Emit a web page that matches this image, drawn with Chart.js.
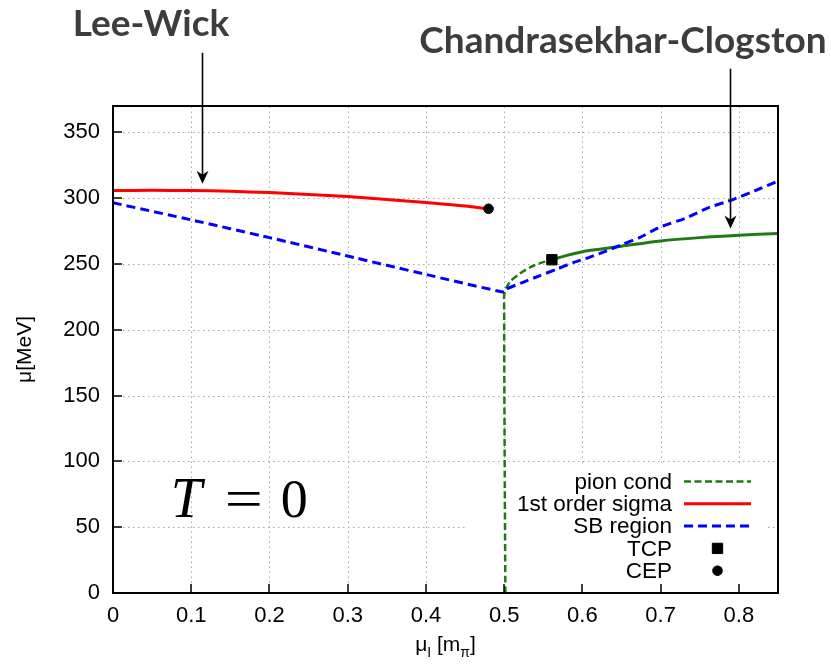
<!DOCTYPE html>
<html>
<head>
<meta charset="utf-8">
<script src="https://cdn.jsdelivr.net/npm/chart.js@4/dist/chart.umd.min.js"></script>
<style>
  html, body { margin: 0; padding: 0; background: #fff; }
  #wrap { width: 831px; height: 664px; }
</style>
</head>
<body>
<div id="wrap"><canvas id="c" width="831" height="664"></canvas></div>
<script>
// Axis ticks
const xTicks = [0, 0.1, 0.2, 0.3, 0.4, 0.5, 0.6, 0.7, 0.8];
const yTicks = [0, 50, 100, 150, 200, 250, 300, 350];

// Pion condensation boundary (second-order, dashed part)
const pionCondX = [0.5015, 0.5008, 0.5002, 0.5, 0.5, 0.503, 0.509, 0.52, 0.533, 0.545, 0.561];
const pionCondY = [0, 80, 160, 215, 226, 232, 237.5, 242.6, 247.4, 250.4, 253.2];

// Pion condensation boundary beyond the TCP (first-order, solid part)
const pionFirstX = [0.561, 0.58, 0.6, 0.622, 0.65, 0.7, 0.75, 0.8, 0.85];
const pionFirstY = [253.2, 256.5, 259.3, 261.2, 263.5, 267.5, 270, 271.8, 273.2];

// First-order chiral (sigma) transition line, ending at the CEP
const sigmaX = [0, 0.05, 0.1, 0.15, 0.2, 0.25, 0.3, 0.35, 0.4, 0.45, 0.48];
const sigmaY = [305.8, 305.9, 305.8, 305.2, 304.2, 302.8, 301.2, 299.0, 296.6, 294.0, 291.9];

// Boundary of the symmetry-broken region
const sbX = [0, 0.1, 0.2, 0.3, 0.4, 0.5, 0.503, 0.524, 0.545, 0.567, 0.588, 0.609, 0.631, 0.652, 0.673, 0.699, 0.733, 0.762, 0.788, 0.822, 0.85];
const sbY = [296.5, 283.5, 270, 256, 242, 228.5, 231, 236, 241, 246, 251, 255, 260, 265, 270, 278, 285, 293, 298, 306, 313];

// Special points
const tcpPoint = [0.561, 253.2];
const cepPoint = [0.48, 291.9];

// Annotation arrows: [x, top of shaft (μ), tip (μ)]
const leeWickArrow = [0.1134, 410.4, 311];
const clogstonArrow = [0.7885, 398.3, 277];

const GREEN = '#1f7a12';
const RED = '#ff0000';
const BLUE = '#0000ff';

const zip = (xs, ys) => xs.map((x, i) => ({ x, y: ys[i] }));

Chart.defaults.font.family = "'Liberation Sans', Arial, sans-serif";
Chart.defaults.color = '#000';

const datasets = [
  { label: 'TCP', data: [{ x: tcpPoint[0], y: tcpPoint[1] }], showLine: false,
    pointStyle: 'rect', pointRadius: 7.3, backgroundColor: '#000', borderColor: '#000', borderWidth: 1, order: 0 },
  { label: 'CEP', data: [{ x: cepPoint[0], y: cepPoint[1] }], showLine: false,
    pointStyle: 'circle', pointRadius: 4.8, backgroundColor: '#000', borderColor: '#000', borderWidth: 1, order: 0 },
  { label: 'pion cond', data: zip(pionCondX, pionCondY), showLine: true, pointRadius: 0,
    borderColor: GREEN, borderWidth: 2.5, borderDash: [7, 3.5], tension: 0.25, order: 2 },
  { label: '', data: zip(pionFirstX, pionFirstY), showLine: true, pointRadius: 0,
    borderColor: GREEN, borderWidth: 3, tension: 0.3, order: 2 },
  { label: '1st order sigma', data: zip(sigmaX, sigmaY), showLine: true, pointRadius: 0,
    borderColor: RED, borderWidth: 3, tension: 0.3, order: 1 },
  { label: 'SB region', data: zip(sbX, sbY), showLine: true, pointRadius: 0,
    borderColor: BLUE, borderWidth: 3, borderDash: [9, 5], tension: 0.15, order: 1 }
];

// Key entries in display order
const keyOrder = ['pion cond', '1st order sigma', 'SB region', 'TCP', 'CEP'];

function drawArrow(ctx, x, yTop, yTip) {
  ctx.save();
  ctx.strokeStyle = '#000';
  ctx.fillStyle = '#000';
  ctx.lineWidth = 1.6;
  ctx.beginPath();
  ctx.moveTo(x, yTop);
  ctx.lineTo(x, yTip - 8);
  ctx.stroke();
  ctx.beginPath();
  ctx.moveTo(x, yTip);
  ctx.lineTo(x - 6, yTip - 13);
  ctx.lineTo(x, yTip - 9);
  ctx.lineTo(x + 6, yTip - 13);
  ctx.closePath();
  ctx.fill();
  ctx.restore();
}

const framePlugin = {
  id: 'gnuFrame',
  beforeDatasetsDraw(chart) {
    const { ctx, chartArea: ca, scales: { x: xs, y: ys } } = chart;
    ctx.save();
    // dotted grid
    ctx.strokeStyle = '#a6a6a6';
    ctx.lineWidth = 1;
    ctx.setLineDash([1.5, 3.5]);
    xTicks.forEach(v => {
      if (v === 0) return;
      const px = Math.round(xs.getPixelForValue(v)) + 0.5;
      ctx.beginPath(); ctx.moveTo(px, ca.bottom); ctx.lineTo(px, ca.top); ctx.stroke();
    });
    yTicks.forEach(v => {
      if (v === 0) return;
      const py = Math.round(ys.getPixelForValue(v)) + 0.5;
      ctx.beginPath(); ctx.moveTo(ca.left, py); ctx.lineTo(ca.right, py); ctx.stroke();
    });
    ctx.setLineDash([]);
    // opaque key box
    ctx.fillStyle = '#fff';
    const kl = ca.right - 312, kr = ca.right - 12, kt = ca.bottom - 129;
    ctx.fillRect(kl, kt, kr - kl, ca.bottom - kt);
    ctx.restore();
  },
  afterDatasetsDraw(chart) {
    const { ctx, chartArea: ca, scales: { x: xs, y: ys } } = chart;
    ctx.save();
    // border
    ctx.strokeStyle = '#000';
    ctx.lineWidth = 2;
    ctx.strokeRect(ca.left, ca.top, ca.right - ca.left, ca.bottom - ca.top);
    // inward tick marks on the left and bottom axes
    ctx.lineWidth = 1.5;
    yTicks.forEach(v => {
      const py = Math.round(ys.getPixelForValue(v));
      ctx.beginPath(); ctx.moveTo(ca.left, py); ctx.lineTo(ca.left + 9, py); ctx.stroke();
    });
    xTicks.forEach(v => {
      const px = Math.round(xs.getPixelForValue(v));
      ctx.beginPath(); ctx.moveTo(px, ca.bottom); ctx.lineTo(px, ca.bottom - 9); ctx.stroke();
    });

    // key
    const textRight = ca.right - 106;
    const sampleL = ca.right - 94, sampleR = ca.right - 27, sampleC = (sampleL + sampleR) / 2;
    const rowTop = ca.bottom - 111.5, rowStep = 22.3;
    ctx.font = "22.5px 'Liberation Sans', Arial, sans-serif";
    ctx.textAlign = 'right';
    ctx.textBaseline = 'middle';
    keyOrder.forEach((name, i) => {
      const ds = chart.data.datasets.find(d => d.label === name);
      const y = rowTop + i * rowStep;
      ctx.fillStyle = '#000';
      ctx.fillText(name, textRight, y + 1);
      if (ds.showLine) {
        ctx.strokeStyle = ds.borderColor;
        ctx.lineWidth = ds.borderWidth;
        ctx.setLineDash(ds.borderDash || []);
        ctx.beginPath(); ctx.moveTo(sampleL, y); ctx.lineTo(sampleR, y); ctx.stroke();
        ctx.setLineDash([]);
      } else {
        ctx.fillStyle = ds.backgroundColor;
        ctx.strokeStyle = ds.borderColor;
        ctx.lineWidth = ds.borderWidth;
        Chart.helpers.drawPoint(ctx, {
          pointStyle: ds.pointStyle, radius: ds.pointRadius, borderWidth: ds.borderWidth, rotation: 0
        }, sampleC, y);
      }
    });

    // T = 0 label
    const tx = xs.getPixelForValue(0.0763), ty = ys.getPixelForValue(57.9);
    ctx.textAlign = 'left';
    ctx.textBaseline = 'alphabetic';
    ctx.fillStyle = '#000';
    ctx.font = "italic 56px 'Liberation Serif', 'DejaVu Serif', serif";
    ctx.fillText('T', tx - 2, ty);
    ctx.font = "54px 'Liberation Serif', 'DejaVu Serif', serif";
    ctx.save();
    ctx.translate(tx + 52, ty);
    ctx.scale(1.25, 1);
    ctx.fillText('=', 0, 0);
    ctx.restore();
    ctx.fillText('0', tx + 108, ty);
    ctx.restore();
  },
  afterDraw(chart) {
    const { ctx, chartArea: ca, scales: { x: xs, y: ys } } = chart;
    ctx.save();
    // annotation arrows
    [leeWickArrow, clogstonArrow].forEach(a => {
      drawArrow(ctx, Math.round(xs.getPixelForValue(a[0])) + 0.5, ys.getPixelForValue(a[1]), ys.getPixelForValue(a[2]));
    });
    ctx.fillStyle = '#3d3d3d';
    ctx.font = "bold 37px Lato, 'Open Sans', sans-serif";
    ctx.textAlign = 'center';
    ctx.textBaseline = 'alphabetic';
    ctx.fillText('Lee-Wick', 151, 36);
    ctx.fillText('Chandrasekhar-Clogston', 623, 53);

    // y-axis title
    ctx.fillStyle = '#000';
    ctx.save();
    ctx.translate(31, (ca.top + ca.bottom) / 2);
    ctx.rotate(-Math.PI / 2);
    ctx.font = "21px 'Liberation Sans', Arial, sans-serif";
    ctx.textAlign = 'center';
    ctx.fillText('\u03bc[MeV]', 0, 0);
    ctx.restore();

    // x-axis title with subscripts
    const big = "21px 'Liberation Sans', Arial, sans-serif";
    const small = "14px 'Liberation Sans', Arial, sans-serif";
    const parts = [['\u03bc', big, 0], ['I', small, 6], [' [m', big, 0], ['\u03c0', small, 6], [']', big, 0]];
    let total = 0;
    parts.forEach(p => { ctx.font = p[1]; total += ctx.measureText(p[0]).width; });
    let cx = (ca.left + ca.right) / 2 - total / 2;
    const base = 651;
    ctx.textAlign = 'left';
    parts.forEach(p => {
      ctx.font = p[1];
      ctx.fillText(p[0], cx, base + p[2]);
      cx += ctx.measureText(p[0]).width;
    });
    ctx.restore();
  }
};

new Chart(document.getElementById('c'), {
  type: 'scatter',
  data: { datasets },
  options: {
    responsive: false,
    animation: false,
    devicePixelRatio: 1,
    layout: { padding: { top: 106, right: 53, left: 0, bottom: 0 } },
    plugins: { legend: { display: false }, tooltip: { enabled: false } },
    scales: {
      x: {
        type: 'linear', min: 0, max: 0.85,
        afterBuildTicks: s => { s.ticks = xTicks.map(v => ({ value: v })); },
        afterFit: s => { s.height = 71; },
        grid: { display: false, drawTicks: false },
        border: { display: false },
        ticks: {
          padding: 10, maxRotation: 0, autoSkip: false,
          font: { size: 22 },
          callback: v => String(Math.round(v * 10) / 10)
        }
      },
      y: {
        type: 'linear', min: 0, max: 370,
        afterBuildTicks: s => { s.ticks = yTicks.map(v => ({ value: v })); },
        afterFit: s => { s.width = 113; },
        grid: { display: false, drawTicks: false },
        border: { display: false },
        ticks: { padding: 13, autoSkip: false, font: { size: 22 } }
      }
    }
  },
  plugins: [framePlugin]
});
</script>
</body>
</html>
